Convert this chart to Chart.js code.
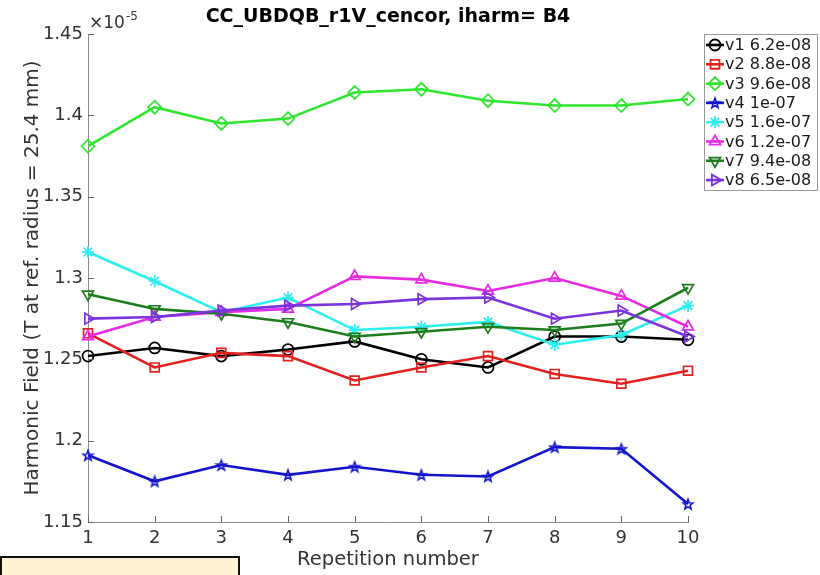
<!DOCTYPE html>
<html>
<head>
<meta charset="utf-8">
<script src="https://cdn.jsdelivr.net/npm/chart.js@4"></script>
<style>
  html, body { margin: 0; padding: 0; background: #fff; }
  #wrap { position: relative; width: 820px; height: 575px; }
  #note { position: absolute; left: 0; top: 556px; width: 236px; height: 30px; border: 2px solid #111; background: #fff3d4; }
</style>
</head>
<body>
<div id="wrap">
  <canvas id="c" width="820" height="575"></canvas>
  <div id="note"></div>
</div>
<script>
// Values in units of 1e-5 T (axis shows ×10^-5)
const repetitions = [1, 2, 3, 4, 5, 6, 7, 8, 9, 10];
const yTicks = [1.15, 1.2, 1.25, 1.3, 1.35, 1.4, 1.45];
const titleText = "CC_UBDQB_r1V_cencor, iharm= B4";
const seriesNames = ["v1 6.2e-08", "v2 8.8e-08", "v3 9.6e-08", "v4 1e-07", "v5 1.6e-07", "v6 1.2e-07", "v7 9.4e-08", "v8 6.5e-08"];
const v1 = [1.252, 1.257, 1.252, 1.256, 1.261, 1.250, 1.245, 1.264, 1.264, 1.262];
const v2 = [1.266, 1.245, 1.254, 1.252, 1.237, 1.245, 1.252, 1.241, 1.235, 1.243];
const v3 = [1.381, 1.405, 1.395, 1.398, 1.414, 1.416, 1.409, 1.406, 1.406, 1.410];
const v4 = [1.191, 1.175, 1.185, 1.179, 1.184, 1.179, 1.178, 1.196, 1.195, 1.161];
const v5 = [1.316, 1.298, 1.279, 1.288, 1.268, 1.270, 1.273, 1.259, 1.265, 1.283];
const v6 = [1.264, 1.276, 1.279, 1.281, 1.301, 1.299, 1.292, 1.300, 1.289, 1.270];
const v7 = [1.290, 1.281, 1.278, 1.273, 1.264, 1.267, 1.270, 1.268, 1.272, 1.294];
const v8 = [1.275, 1.276, 1.280, 1.283, 1.284, 1.287, 1.288, 1.275, 1.280, 1.264];
const seriesValues = [v1, v2, v3, v4, v5, v6, v7, v8];

const colors = ["#000000", "#e3211f", "#2ee62e", "#1414cc", "#2eeeee", "#e52be5", "#1c7d1c", "#7a33dd"];

function pentagram(color) {
  const s = 14, cv = document.createElement('canvas');
  cv.width = s; cv.height = s;
  const g = cv.getContext('2d');
  g.strokeStyle = color; g.lineWidth = 1.6; g.lineJoin = 'miter';
  g.beginPath();
  const R = 5.3, r = 2.2, cx = s / 2, cy = s / 2 + 0.5;
  for (let i = 0; i < 10; i++) {
    const a = -Math.PI / 2 + i * Math.PI / 5;
    const rr = i % 2 === 0 ? R : r;
    const x = cx + rr * Math.cos(a), y = cy + rr * Math.sin(a);
    if (i === 0) g.moveTo(x, y); else g.lineTo(x, y);
  }
  g.closePath(); g.stroke();
  return cv;
}

const styles = [
  { pointStyle: 'circle', rotation: 0, radius: 5.5 },
  { pointStyle: 'rect', rotation: 0, radius: 6.3 },
  { pointStyle: 'rectRot', rotation: 0, radius: 6.5 },
  { pointStyle: pentagram(colors[3]), rotation: 0, radius: 6 },
  { pointStyle: 'star', rotation: 0, radius: 6 },
  { pointStyle: 'triangle', rotation: 0, radius: 6.3 },
  { pointStyle: 'triangle', rotation: 180, radius: 6.3 },
  { pointStyle: 'triangle', rotation: 90, radius: 6.3 }
];

const datasets = seriesValues.map((vals, i) => ({
  label: seriesNames[i],
  data: vals.map((v, j) => ({ x: repetitions[j], y: v })),
  borderColor: colors[i],
  backgroundColor: 'rgba(0,0,0,0)',
  pointBorderColor: colors[i],
  pointBackgroundColor: 'rgba(0,0,0,0)',
  borderWidth: 2.6,
  pointBorderWidth: 1.7,
  pointStyle: styles[i].pointStyle,
  rotation: styles[i].rotation,
  pointRadius: styles[i].radius,
  tension: 0,
  clip: false,
  order: 8 - i
}));

const FONT = "'DejaVu Sans', sans-serif";

const decorPlugin = {
  id: 'decor',
  afterDraw(chart) {
    const ctx = chart.ctx;
    const xs = chart.scales.x, ys = chart.scales.y;
    const area = chart.chartArea;
    ctx.save();
    // inside tick marks
    ctx.strokeStyle = '#666';
    ctx.lineWidth = 1;
    repetitions.forEach(r => {
      const px = Math.round(xs.getPixelForValue(r)) + 0.5;
      ctx.beginPath(); ctx.moveTo(px, area.bottom); ctx.lineTo(px, area.bottom - 6); ctx.stroke();
    });
    yTicks.forEach(t => {
      const py = Math.round(ys.getPixelForValue(t)) + 0.5;
      ctx.beginPath(); ctx.moveTo(area.left, py); ctx.lineTo(area.left + 6, py); ctx.stroke();
    });
    // title
    ctx.fillStyle = '#000';
    ctx.font = "bold 19px " + FONT;
    ctx.textAlign = 'center'; ctx.textBaseline = 'middle';
    ctx.fillText(titleText, (area.left + area.right) / 2, 17);
    // exponent label
    ctx.fillStyle = '#333';
    ctx.textAlign = 'left'; ctx.textBaseline = 'alphabetic';
    ctx.font = "17px " + FONT;
    ctx.fillText("\u00d710", area.left + 1, 28);
    const w = ctx.measureText("\u00d710").width;
    ctx.font = "12px " + FONT;
    ctx.fillText("-5", area.left + 1 + w + 1, 20);
    // legend
    const lx = 704, ly = 34, lw = 113, lh = 156;
    ctx.fillStyle = '#fff';
    ctx.fillRect(lx, ly, lw, lh);
    ctx.strokeStyle = '#999';
    ctx.lineWidth = 1;
    ctx.strokeRect(lx + 0.5, ly + 0.5, lw, lh);
    chart.data.datasets.forEach((ds, i) => {
      const cy = ly + 11 + i * 19.3;
      ctx.strokeStyle = ds.borderColor;
      ctx.lineWidth = 2.6;
      ctx.beginPath(); ctx.moveTo(lx + 2, cy); ctx.lineTo(lx + 20, cy); ctx.stroke();
      ctx.lineWidth = 1.8;
      ctx.strokeStyle = ds.borderColor;
      ctx.fillStyle = 'rgba(0,0,0,0)';
      Chart.helpers.drawPoint(ctx, {
        pointStyle: ds.pointStyle, rotation: ds.rotation, radius: ds.pointRadius,
        borderWidth: 1.8
      }, lx + 11, cy);
      ctx.fillStyle = '#1a1a1a';
      ctx.font = "16px " + FONT;
      ctx.textAlign = 'left'; ctx.textBaseline = 'middle';
      ctx.fillText(ds.label, lx + 21, cy + 1);
    });
    ctx.restore();
  }
};

const chart = new Chart(document.getElementById('c'), {
  type: 'line',
  data: { datasets },
  options: {
    responsive: false,
    animation: false,
    devicePixelRatio: 1,
    layout: { padding: { left: 0, top: 34, right: 132, bottom: 0 } },
    plugins: {
      legend: { display: false },
      title: { display: false },
      tooltip: { enabled: false }
    },
    scales: {
      x: {
        type: 'linear',
        min: 1, max: 10,
        afterFit(s) { s.height = 53; },
        afterBuildTicks(s) { s.ticks = repetitions.map(v => ({ value: v })); },
        grid: { display: true, drawOnChartArea: false, drawTicks: false },
        border: { display: true, color: '#8a8a8a', width: 1 },
        ticks: { color: '#333', font: { family: FONT, size: 18 }, padding: 6, maxRotation: 0,
                 callback: v => String(v) },
        title: { display: true, text: 'Repetition number', color: '#333',
                 font: { family: FONT, size: 19.5 }, padding: { top: 0, bottom: 3 } }
      },
      y: {
        type: 'linear',
        min: 1.15, max: 1.45,
        afterFit(s) { s.width = 88; },
        afterBuildTicks(s) { s.ticks = yTicks.map(v => ({ value: v })); },
        grid: { display: true, drawOnChartArea: false, drawTicks: false },
        border: { display: true, color: '#8a8a8a', width: 1 },
        ticks: { color: '#333', font: { family: FONT, size: 18 }, padding: 5,
                 callback: v => String(Number(v.toFixed(2))) },
        title: { display: true, text: 'Harmonic Field (T at ref. radius = 25.4 mm)', color: '#333',
                 font: { family: FONT, size: 20 }, padding: { top: 21, bottom: 0 } }
      }
    }
  },
  plugins: [decorPlugin]
});
</script>
</body>
</html>
